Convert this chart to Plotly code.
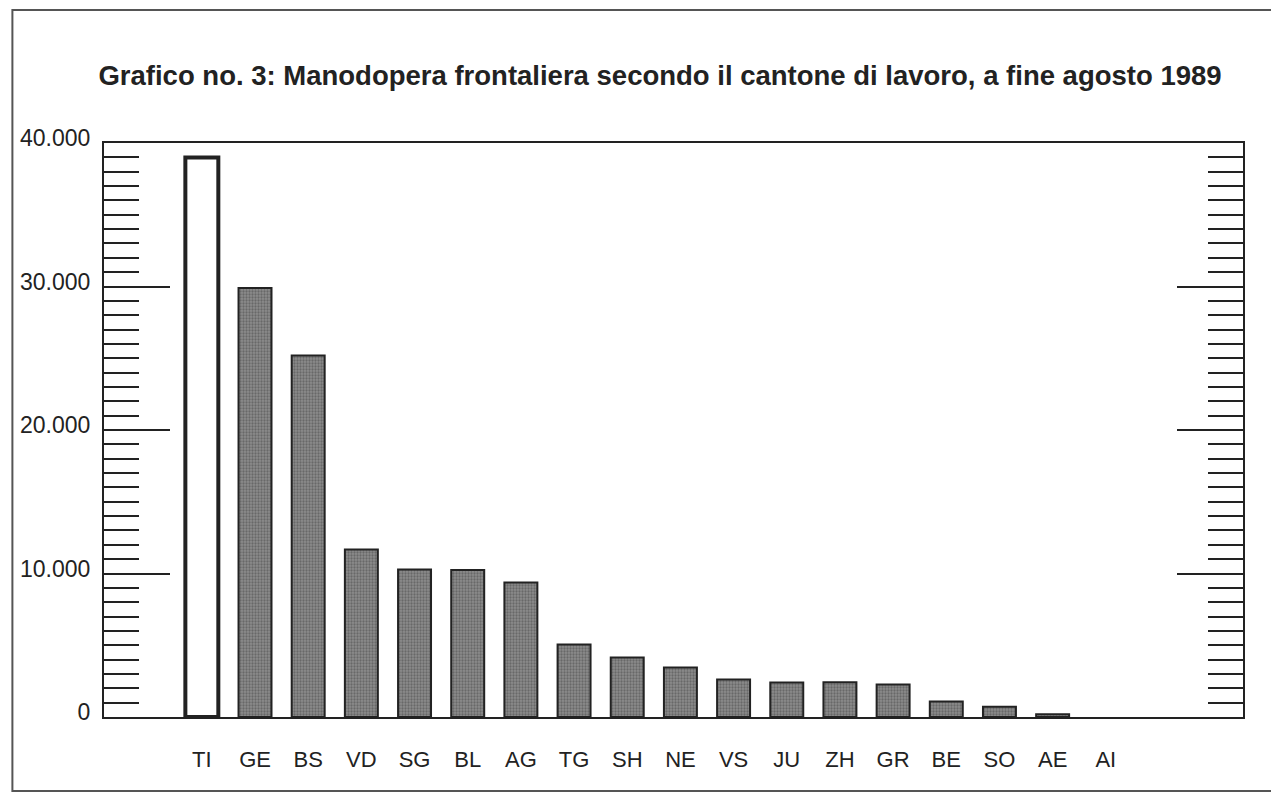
import plotly.graph_objects as go

cantons = ["TI", "GE", "BS", "VD", "SG", "BL", "AG", "TG", "SH", "NE", "VS", "JU", "ZH", "GR", "BE", "SO", "AE", "AI"]
workers = [38990, 29900, 25200, 11670, 10280, 10250, 9370, 5050, 4150, 3450, 2610, 2400, 2430, 2260, 1080, 710, 200, 0]
y_ticks = [0, 10000, 20000, 30000, 40000]
y_tick_labels = ["0", "10.000", "20.000", "30.000", "40.000"]

OFF = 8  # page body margin
W, H = 1279 - OFF, 794 - OFF
L, R, T, B = 99 - OFF, 1243 - OFF, 143 - OFF, 717 - OFF
pw, ph = R - L, B - T

fill_colors = ["white"] + ["#8c8c8c"] * (len(cantons) - 1)
line_widths = [4] + [2] * (len(cantons) - 1)
line_widths = [lw if v > 0 else 0 for lw, v in zip(line_widths, workers)]
pattern_shapes = [""] + ["."] * (len(cantons) - 1)

fig = go.Figure()
fig.add_trace(go.Bar(
    x=cantons, y=workers, width=0.62,
    marker=dict(
        color=fill_colors,
        line=dict(color="#222", width=line_widths),
        pattern=dict(shape=pattern_shapes, fgcolor="#333", bgcolor="#999", size=3, solidity=0.45),
    ),
    showlegend=False, hoverinfo="skip",
))
fig.add_trace(go.Scatter(x=[cantons[0]], y=[0], yaxis="y2", mode="markers",
                         marker=dict(opacity=0), showlegend=False, hoverinfo="skip"))

font_family = "Liberation Sans, Arial, sans-serif"
fig.update_layout(
    width=W, height=H,
    margin=dict(l=L, r=W - R, t=T, b=H - B),
    paper_bgcolor="white", plot_bgcolor="white",
    title=dict(text="<b>Grafico no. 3: Manodopera frontaliera secondo il cantone di lavoro, a fine agosto 1989</b>",
               x=(660 - OFF) / W, xanchor="center", y=1 - (75 - OFF) / H, yanchor="middle",
               font=dict(family=font_family, size=27.5, color="#222")),
    xaxis=dict(type="category", range=[-1.84, 19.58], showline=True, linecolor="#222", linewidth=2,
               mirror=True, ticks="", showgrid=False, zeroline=False,
               tickfont=dict(family=font_family, size=22, color="#222"), ticklabelstandoff=22),
    yaxis=dict(range=[0, 40000], tickvals=y_ticks, ticktext=y_tick_labels, showline=True,
               linecolor="#222", linewidth=2, ticks="inside", ticklen=66, tickwidth=1.5, tickcolor="#222",
               minor=dict(dtick=1000, ticks="inside", ticklen=35, tickwidth=2, tickcolor="#222", showgrid=False),
               showgrid=False, zeroline=False, ticklabelstandoff=7, ticklabelshift=-5,
               tickfont=dict(family=font_family, size=23, color="#222")),
    yaxis2=dict(range=[0, 40000], overlaying="y", side="right", tickvals=y_ticks, showticklabels=False,
                showline=True, linecolor="#222", linewidth=2, ticks="inside", ticklen=66, tickwidth=1.5,
                tickcolor="#222",
                minor=dict(dtick=1000, ticks="inside", ticklen=35, tickwidth=2, tickcolor="#222", showgrid=False),
                showgrid=False, zeroline=False),
    shapes=[dict(type="rect", xref="paper", yref="paper",
                 x0=(7 - 99) / pw, x1=(1275 - 99) / pw, y0=(717 - 791) / ph, y1=(717 - 10) / ph,
                 line=dict(color="#555", width=2), fillcolor="rgba(0,0,0,0)", layer="below")],
)

fig.write_html("out.html")
